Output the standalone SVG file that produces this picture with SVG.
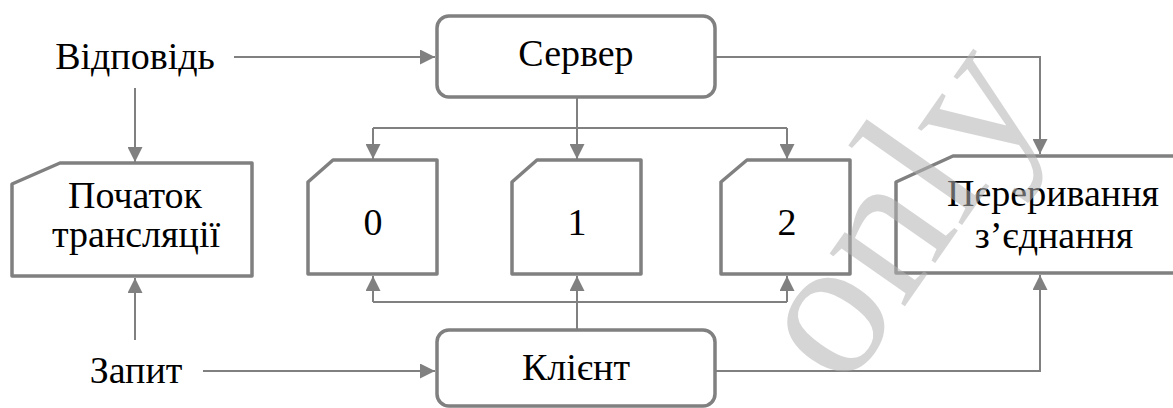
<svg xmlns="http://www.w3.org/2000/svg" width="1173" height="408" viewBox="0 0 1173 408">
<defs>
<marker id="arr" markerUnits="userSpaceOnUse" markerWidth="15" markerHeight="15" refX="15" refY="7.5" orient="auto">
<path d="M0,0 L15,7.5 L0,15 Z" fill="#808080"/>
</marker>
<style>
.box{fill:#fff;stroke:#808080;stroke-width:3.5;stroke-linejoin:round}
.ln{fill:none;stroke:#808080;stroke-width:2}
</style>
</defs>
<rect width="1173" height="408" fill="#fff"/>
<g id="connectors">
<path class="ln" d="M234,57 H435" marker-end="url(#arr)"/>
<path class="ln" d="M135,88 V162" marker-end="url(#arr)"/>
<path class="ln" d="M135,340 V278" marker-end="url(#arr)"/>
<path class="ln" d="M203,371 H435" marker-end="url(#arr)"/>
<path class="ln" d="M715,57 H1040 V154" marker-end="url(#arr)"/>
<path class="ln" d="M577,97 V128"/>
<path class="ln" d="M373,128 H787"/>
<path class="ln" d="M373,128 V159" marker-end="url(#arr)"/>
<path class="ln" d="M577,128 V159" marker-end="url(#arr)"/>
<path class="ln" d="M787,128 V159" marker-end="url(#arr)"/>
<path class="ln" d="M577,330 V276" marker-end="url(#arr)"/>
<path class="ln" d="M373,302 H787"/>
<path class="ln" d="M373,302 V276" marker-end="url(#arr)"/>
<path class="ln" d="M787,302 V276" marker-end="url(#arr)"/>
<path class="ln" d="M715,371 H1040 V275" marker-end="url(#arr)"/>
</g>
<g font-family="Liberation Serif" font-size="38" text-anchor="middle" fill="#000">
<g id="vidpovid"><text x="135" y="69">Відповідь</text></g>
<g id="zapyt"><text x="136" y="383">Запит</text></g>
<g id="pochatok">
<path class="box" d="M12,184 L60,163 H252 V276 H12 Z"/>
<text x="135" y="208">Початок</text>
<text x="136" y="247">трансляції</text>
</g>
<g id="server">
<rect class="box" x="437" y="16" width="278" height="81" rx="12"/>
<text x="576" y="66">Сервер</text>
</g>
<g id="client">
<rect class="box" x="437" y="330" width="278" height="76" rx="12"/>
<text x="576" y="380">Клієнт</text>
</g>
<g id="box0">
<path class="box" d="M308,182 L333,160 H437 V274 H308 Z"/>
<text x="373" y="235">0</text>
</g>
<g id="box1">
<path class="box" d="M512,182 L537,160 H641 V274 H512 Z"/>
<text x="577" y="235">1</text>
</g>
<g id="box2">
<path class="box" d="M721,182 L747,160 H850 V274 H721 Z"/>
<text x="787" y="235">2</text>
</g>
<g id="pererivannya">
<path class="box" d="M896,182 L953,156 H1185 V273 H896 Z"/>
<text x="1053" y="206">Переривання</text>
<text x="1054" y="248">з’єднання</text>
</g>
</g>
<text font-family="Liberation Serif" font-size="200" fill="#b4b4b4" opacity="0.55" x="845" y="392" transform="rotate(-55 845 392)">only</text>
</svg>
